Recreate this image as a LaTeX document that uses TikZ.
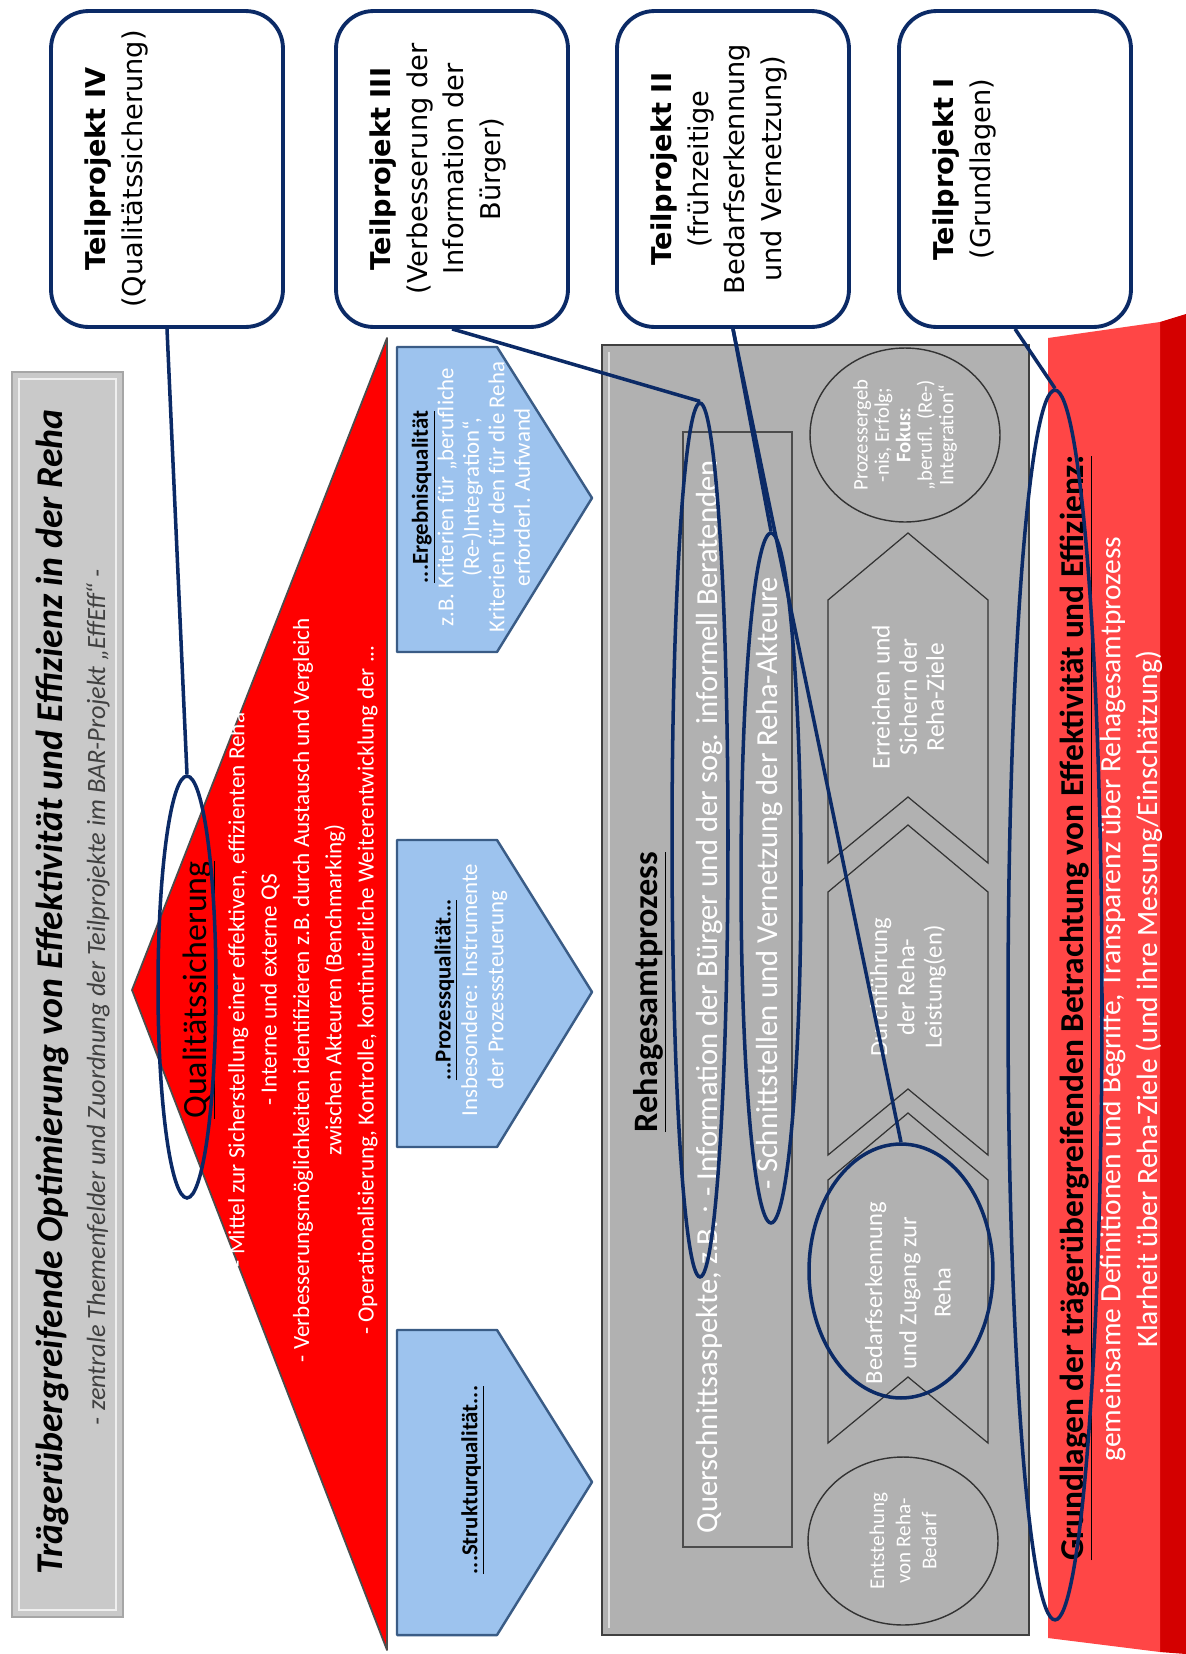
\documentclass[tikz,border=0pt]{standalone}
\usepackage{fontspec}
\setmainfont{Carlito}
\newfontfamily\tpfont{DejaVu Sans}
\usetikzlibrary{shapes.geometric}

\definecolor{titlegrey}{HTML}{C9C9C9}
\definecolor{procgrey}{HTML}{B1B1B1}
\definecolor{qsred}{HTML}{FF0000}
\definecolor{basered}{HTML}{FF4646}
\definecolor{basedark}{HTML}{D40000}
\definecolor{arrowblue}{HTML}{9DC3EE}
\definecolor{arrowedge}{HTML}{3A5C86}
\definecolor{markblue}{HTML}{0B2A66}

\tikzset{
  vtext/.style={rotate=90, align=center, inner sep=0pt},
  tpbox/.style={draw=markblue, line width=2.2pt, fill=white, rounded corners=0.75cm,
    minimum width=4.64cm, minimum height=6.32cm, inner sep=0pt},
  tptext/.style={vtext, anchor=north, font=\tpfont\fontsize{15.5}{21}\selectfont},
  qualarrow/.style={fill=arrowblue, draw=arrowedge, line width=1.4pt, line join=round},
  chevron/.style={draw=black!80, line width=0.7pt},
  procring/.style={ellipse, draw=black!80, line width=0.8pt, inner sep=0pt, align=center,
    text=white},
  hlring/.style={ellipse, draw=markblue, line width=2pt, inner sep=0pt},
  hlline/.style={draw=markblue, line width=2pt},
}

\begin{document}
\begin{tikzpicture}[x=0.02cm, y=-0.02cm]
\useasboundingbox (0,0) rectangle (1186,1654);
\fill[white] (0,0) rectangle (1186,1654);

% title bar
\draw[fill=titlegrey, draw=black!35, line width=1.5pt] (12,372) rectangle (123,1617);
\draw[white!70!titlegrey, line width=1.2pt] (19,379) rectangle (116,1610);
\node[vtext, font=\fontsize{21.5}{24}\selectfont\bfseries\itshape] (title) at (52,992)
  {Trägerübergreifende Optimierung von Effektivität und Effizienz in der Reha};
\node[vtext, font=\fontsize{15}{18}\selectfont\itshape, text=black!75] (subtitle) at (98,997)
  {- zentrale Themenfelder und Zuordnung der Teilprojekte im BAR-Projekt „EffEff“ -};

% Qualitaetssicherung
\draw[fill=qsred, draw=black!70, line width=1pt, line join=round]
  (132,990) -- (387,338) -- (387,1650) -- cycle;
\node[vtext, font=\fontsize{19.3}{22}\selectfont] (qs) at (199,990) {\underline{Qualitätssicherung}};
\node[vtext, text=white, font=\fontsize{13.2}{18.4}\selectfont] (qslist) at (303,990)
  {- Mittel zur Sicherstellung einer effektiven, effizienten Reha\\
   - Interne und externe QS\\
   - Verbesserungsmöglichkeiten identifizieren z.B. durch Austausch und Vergleich\\
   zwischen Akteuren (Benchmarking)\\
   - Operationalisierung, Kontrolle, kontinuierliche Weiterentwicklung der ...};

\foreach \ya/\yb/\yc in {347/652/498, 840/1147/992, 1330/1635/1482}
  \draw[qualarrow] (397,\ya) -- (497,\ya) -- (592,\yc) -- (497,\yb) -- (397,\yb) -- cycle;
\node[vtext, text=white, font=\fontsize{13}{14.5}\selectfont] (ergebnis) at (471,497)
  {\textcolor{black}{\textbf{\underline{...Ergebnisqualität}}}\\
   z.B. Kriterien für „berufliche\\ (Re-)Integration“,\\
   Kriterien für den für die Reha\\ erforderl. Aufwand};
\node[vtext, text=white, font=\fontsize{13}{15}\selectfont] (prozess) at (471,990)
  {\textcolor{black}{\textbf{\underline{...Prozessqualität...}}}\\
   Insbesondere: Instrumente\\ der Prozesssteuerung};
\node[vtext, font=\fontsize{13}{15}\selectfont\bfseries] (struktur) at (473,1480)
  {\underline{...Strukturqualität...}};

% Rehagesamtprozess
\draw[fill=procgrey, draw=black!75, line width=1.5pt] (602,345) rectangle (1029,1635);
\draw[white!60!procgrey, line width=1.5pt] (609,352) -- (609,1628);
\node[vtext, font=\fontsize{19.5}{22}\selectfont\bfseries] (gesamt) at (650,992)
  {\underline{Rehagesamtprozess}};
\draw[draw=black!70, line width=1pt] (683,432) rectangle (792,1547);
\node[vtext, text=white, font=\fontsize{17.4}{20}\selectfont] (quer) at (710,997)
  {Querschnittsaspekte, z.B. : - Information der Bürger und der sog. informell Beratenden};
\node[vtext, text=white, font=\fontsize{17.4}{20}\selectfont] (netz) at (770,883)
  {- Schnittstellen und Vernetzung der Reha-Akteure};

\foreach \yb in {1443,1155,863}
  \draw[chevron] (828,\yb) -- (908,\yb-66) -- (988,\yb) -- (988,\yb-263)
    -- (908,\yb-330) -- (828,\yb-263) -- cycle;
\node[vtext, text=white, font=\fontsize{14}{19.5}\selectfont] (bedarf) at (908,1293)
  {Bedarfserkennung\\ und Zugang zur\\ Reha};
\node[vtext, text=white, font=\fontsize{14}{15.5}\selectfont] (durch) at (908,987)
  {Durchführung\\ der Reha-\\ Leistung(en)};
\node[vtext, text=white, font=\fontsize{14.5}{15.5}\selectfont] (ziele) at (908,697)
  {Erreichen und\\ Sichern der\\ Reha-Ziele};
\node[procring, rotate=90, minimum width=3.36cm, minimum height=3.8cm,
  font=\fontsize{12}{14.8}\selectfont] (entst) at (903,1541)
  {Entstehung\\ von Reha-\\ Bedarf};
\node[procring, rotate=90, minimum width=3.48cm, minimum height=3.8cm,
  font=\fontsize{11.8}{12.2}\selectfont] (ergeb) at (905,435)
  {Prozessergeb\\ -nis, Erfolg;\\ \textbf{Fokus:}\\ „berufl. (Re-)\\ Integration“};

% Grundlagen
\fill[basedark] (1160,322) -- (1186,314) -- (1186,1654) -- (1160,1652) -- cycle;
\fill[basered] (1048,338) -- (1160,322) -- (1160,1652) -- (1048,1638) -- cycle;
\node[vtext, font=\fontsize{19}{22}\selectfont\bfseries] (grund) at (1076,1008)
  {\underline{Grundlagen der trägerübergreifenden Betrachtung von Effektivität und Effizienz:}};
\node[vtext, text=white, font=\fontsize{16.8}{21}\selectfont] (grundlist) at (1131,999)
  {gemeinsame Definitionen und Begriffe, Transparenz über Rehagesamtprozess\\
   Klarheit über Reha-Ziele (und ihre Messung/Einschätzung)};

% Teilprojekte
\node[tpbox] (tp4) at (167,169) {};
\node[tpbox] (tp3) at (452,169) {};
\node[tpbox] (tp2) at (733,169) {};
\node[tpbox] (tp1) at (1015,169) {};
\node[tptext] (tp4text) at ([xshift=0.7cm]tp4.west) {\textbf{Teilprojekt IV}\\ (Qualitätssicherung)};
\node[tptext] (tp3text) at ([xshift=0.7cm]tp3.west)
  {\textbf{Teilprojekt III}\\ (Verbesserung der\\ Information der\\ Bürger)};
\node[tptext] (tp2text) at ([xshift=0.7cm]tp2.west)
  {\textbf{Teilprojekt II}\\ (frühzeitige\\ Bedarfserkennung\\ und Vernetzung)};
\node[tptext] (tp1text) at ([xshift=0.7cm]tp1.west) {\textbf{Teilprojekt I}\\ (Grundlagen)};

% Markierungen
\node[hlring, minimum width=1.16cm, minimum height=8.44cm] (ringqs) at (187,987) {};
\node[hlring, minimum width=1.12cm, minimum height=17.48cm] (ringquer) at (700,840) {};
\node[hlring, minimum width=1.2cm, minimum height=13.8cm] (ringnetz) at (771,878) {};
\node[hlring, minimum width=3.68cm, minimum height=5.08cm] (ringbed) at (901,1271) {};
\node[hlring, minimum width=1.88cm, minimum height=24.6cm] (ringgrund) at (1055,1005) {};

\draw[hlline] (tp4.south) -- (ringqs.north);
\draw[hlline] (tp3.south) -- (ringquer.north);
\draw[hlline] (tp2.south) -- (ringnetz.north);
\draw[hlline] (tp2.south) -- (ringbed.north);
\draw[hlline] (tp1.south) -- (ringgrund.north);

\end{tikzpicture}
\end{document}
